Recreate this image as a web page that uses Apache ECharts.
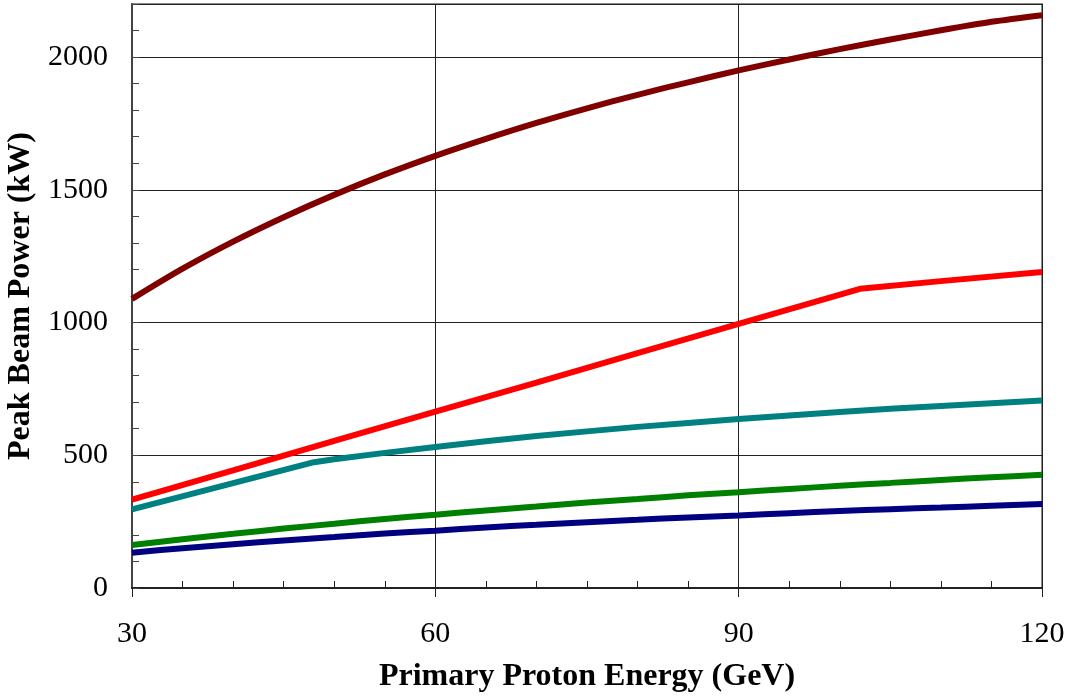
<!DOCTYPE html>
<html>
<head>
<meta charset="UTF-8">
<title>Peak Beam Power</title>
<script src="https://cdn.jsdelivr.net/npm/echarts@6/dist/echarts.min.js"></script>
</head>
<body style="margin:0;background:#fff;">
<div id="container" style="width:1070px;height:696px;"></div>
<script>
// energy (GeV) and peak beam power (kW)
var energy = [30, 35, 40, 45, 50, 55, 60, 65, 70, 75, 80, 85, 90, 95, 100, 105, 110, 115, 120];
var darkRed = [1089, 1203, 1305, 1397, 1481, 1558, 1628, 1692, 1752, 1807, 1858, 1905, 1950, 1991, 2030, 2066, 2101, 2133, 2158];
var green = [162, 184, 204, 224, 242, 260, 276, 292, 307, 322, 335, 349, 361, 373, 385, 396, 407, 417, 427];
var navy = [133, 150, 165, 179, 192, 205, 216, 228, 238, 248, 257, 266, 273, 282, 290, 297, 303, 310, 316];

var redE = [30, 40, 50, 60, 70, 80, 90, 102, 110, 120];
var red = [333, 443, 554, 664, 774, 885, 995, 1127, 1156, 1190];

var tealE = [30, 40, 48, 50, 55, 60, 65, 70, 75, 80, 85, 90, 95, 100, 105, 110, 115, 120];
var teal = [296, 395, 474, 485, 509, 531, 553, 573, 590, 607, 622, 637, 650, 663, 675, 686, 696, 706];

var yTicks = [0, 500, 1000, 1500, 2000];

function pairs(xs, ys) {
  return xs.map(function (x, i) { return [x, ys[i]]; });
}

var font = 'Liberation Serif, Times New Roman, serif';
var chart = echarts.init(document.getElementById('container'));

function line(name, xs, ys, color, smooth) {
  return {
    name: name,
    type: 'line',
    data: pairs(xs, ys),
    showSymbol: false,
    symbol: 'none',
    smooth: smooth,
    lineStyle: { color: color, width: 6 },
    xAxisIndex: 0,
    yAxisIndex: 0,
    animation: false
  };
}

var option = {
  backgroundColor: '#fff',
  animation: false,
  grid: {
    left: 132, right: 28, top: 4, bottom: 108,
    outerBoundsMode: 'none',
    containLabel: false,
    show: true, borderColor: '#888', borderWidth: 2
  },
  xAxis: [{
    type: 'value',
    min: 30, max: 120, interval: 30,
    name: 'Primary Proton Energy (GeV)',
    nameLocation: 'middle',
    nameGap: 73,
    nameTextStyle: { fontFamily: font, fontSize: 32, fontWeight: 'bold', color: '#000' },
    axisLine: { show: true, lineStyle: { color: '#222', width: 2 } },
    axisTick: { show: true, inside: false, length: 9, lineStyle: { color: '#222', width: 1 } },
    minorTick: { show: true, splitNumber: 6, length: -7, lineStyle: { color: '#222', width: 1 } },
    axisLabel: { fontFamily: font, fontSize: 30, color: '#000', margin: 31 },
    splitLine: { show: true, lineStyle: { color: '#222', width: 1 } }
  }],
  yAxis: [{
    type: 'value',
    min: 0, max: 2200, interval: 100,
    name: 'Peak Beam Power (kW)',
    nameLocation: 'middle',
    nameGap: 90,
    nameTextStyle: { fontFamily: font, fontSize: 32, fontWeight: 'bold', color: '#000' },
    axisLine: { show: true, lineStyle: { color: '#444', width: 2 } },
    axisTick: { show: true, inside: true, length: 7, lineStyle: { color: '#444', width: 1 } },
    axisLabel: {
      fontFamily: font, fontSize: 30, color: '#000', margin: 24,
      formatter: function (v) { return yTicks.indexOf(v) >= 0 ? String(v) : ''; }
    },
    splitLine: { show: false }
  }, {
    type: 'value',
    min: 0, max: 2200, interval: 500,
    position: 'left',
    axisLine: { show: false },
    axisTick: { show: false },
    axisLabel: { show: false },
    splitLine: { show: true, lineStyle: { color: '#222', width: 1 } }
  }],
  series: [
    line('A', energy, darkRed, '#800000', 0.3),
    line('B', redE, red, '#ff0000', false),
    line('C', tealE, teal, '#008080', false),
    line('D', energy, green, '#008000', 0.3),
    line('E', energy, navy, '#000080', 0.3)
  ]
};

chart.setOption(option);
</script>
</body>
</html>
